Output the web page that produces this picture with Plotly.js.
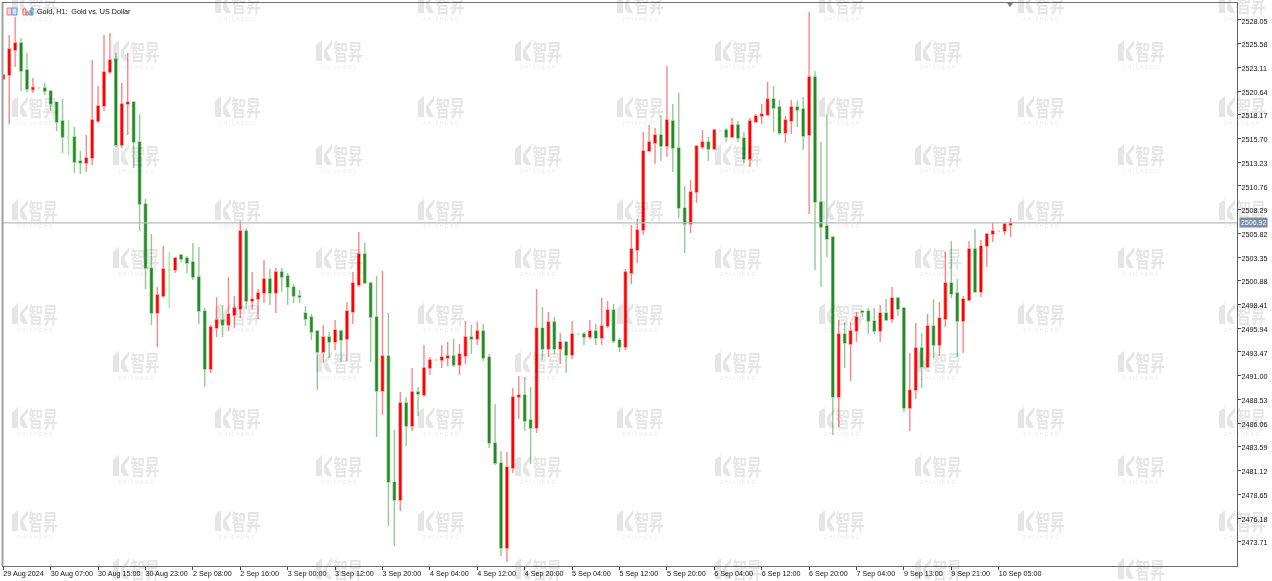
<!DOCTYPE html>
<html><head><meta charset="utf-8">
<script src="https://cdn.plot.ly/plotly-3.0.1.min.js"></script>
<style>html,body{margin:0;padding:0;background:#fff}#c{width:1272px;height:581px;filter:blur(0.3px)}</style>
</head><body><div id="c"></div>
<script>
const opens = [2521.90,2522.32,2524.92,2525.65,2522.84,2520.81,2520.96,2520.96,2520.65,2519.50,
2517.53,2515.86,2515.86,2513.36,2513.15,2513.67,2517.53,2519.09,2522.63,2523.98,
2515.03,2519.30,2519.50,2515.34,2508.88,2502.21,2497.52,2499.30,2502.00,2502.00,
2503.57,2503.26,2502.84,2501.28,2497.73,2491.69,2495.96,2496.80,2496.28,2497.32,
2497.94,2506.07,2498.78,2498.98,2499.61,2501.07,2499.61,2501.80,2501.38,2500.23,
2499.30,2497.52,2497.11,2495.65,2493.46,2495.03,2494.50,2495.65,2494.82,2497.63,
2500.44,2503.67,2500.65,2497.11,2489.40,2493.05,2479.92,2478.05,2488.15,2485.76,
2489.30,2488.98,2491.80,2492.63,2492.63,2492.84,2493.05,2492.11,2493.05,2495.03,
2494.82,2495.65,2492.94,2483.98,2481.90,2473.05,2481.38,2488.78,2488.98,2486.38,
2485.55,2495.96,2493.78,2496.59,2493.78,2494.50,2493.15,2495.34,2495.34,2495.03,
2495.65,2494.92,2496.17,2497.84,2494.71,2493.98,2501.69,2504.09,2506.17,2514.40,
2515.23,2516.07,2514.92,2517.53,2514.71,2508.46,2506.80,2510.13,2514.82,2515.34,
2514.61,2516.48,2516.59,2515.86,2517.11,2515.75,2513.57,2517.42,2518.05,2518.15,
2519.82,2518.98,2516.28,2517.53,2518.98,2518.78,2516.07,2522.11,2509.09,2506.59,
2505.44,2488.78,2495.34,2494.30,2495.65,2497.73,2497.73,2496.69,2495.65,2497.52,
2496.90,2499.09,2498.05,2487.63,2489.50,2493.88,2491.90,2496.17,2494.19,2496.90,
2500.65,2499.61,2496.69,2498.88,2504.19,2499.71,2504.50,2505.75,2506.07,2506.07,
2506.69];
const highs = [2522.32,2526.48,2528.36,2526.17,2524.61,2522.00,2520.96,2521.48,2520.65,2519.50,
2519.82,2517.63,2516.90,2514.40,2516.07,2523.88,2521.17,2526.48,2526.69,2524.61,
2521.48,2524.61,2519.61,2518.26,2509.40,2505.75,2500.23,2504.50,2503.88,2503.26,
2503.67,2503.46,2504.82,2504.40,2498.05,2496.28,2499.19,2498.36,2501.28,2499.30,
2507.11,2506.38,2501.80,2500.02,2503.05,2502.11,2502.21,2502.21,2501.69,2500.55,
2499.92,2498.25,2497.42,2495.65,2496.28,2495.55,2496.80,2495.75,2498.67,2501.80,
2505.96,2504.82,2500.65,2501.38,2501.90,2497.52,2485.34,2489.30,2488.78,2491.80,
2489.82,2494.19,2492.94,2492.63,2494.19,2494.50,2494.82,2494.30,2496.69,2496.28,
2496.59,2496.38,2493.25,2488.05,2483.15,2483.05,2489.71,2490.96,2490.86,2489.82,
2500.02,2498.15,2497.63,2497.11,2495.44,2494.61,2496.69,2495.34,2495.55,2496.80,
2496.38,2499.09,2498.78,2498.46,2494.92,2502.11,2506.69,2507.32,2516.38,2517.11,
2516.80,2518.15,2523.26,2519.30,2520.44,2510.75,2511.38,2514.92,2516.59,2515.86,
2516.69,2516.48,2516.80,2517.84,2517.53,2516.38,2517.84,2518.26,2519.30,2521.59,
2521.17,2519.71,2518.05,2519.71,2519.61,2520.03,2528.88,2522.73,2515.34,2518.26,
2505.44,2496.80,2496.59,2496.59,2497.63,2497.73,2498.05,2498.05,2498.36,2498.98,
2500.23,2499.09,2498.05,2493.36,2496.48,2495.44,2497.42,2498.98,2498.67,2503.88,
2505.03,2501.07,2499.30,2505.03,2506.28,2505.13,2505.86,2506.90,2506.07,2506.90,
2507.42];
const lows = [2521.90,2517.21,2523.15,2520.65,2520.55,2520.44,2520.96,2520.23,2518.57,2516.48,
2514.19,2513.98,2512.11,2512.00,2512.21,2512.94,2517.32,2518.57,2522.42,2514.82,
2514.71,2516.07,2512.63,2506.07,2500.02,2496.28,2493.98,2499.09,2498.05,2501.69,
2502.84,2501.69,2500.96,2496.38,2489.82,2491.27,2495.03,2495.03,2495.65,2495.96,
2497.00,2497.94,2497.94,2496.90,2498.57,2498.36,2497.52,2499.71,2498.36,2498.57,
2498.57,2496.17,2494.71,2489.50,2492.32,2492.84,2493.67,2492.42,2492.53,2496.38,
2500.23,2500.65,2492.42,2484.61,2486.90,2475.34,2473.25,2476.90,2483.67,2485.24,
2486.80,2488.78,2491.07,2492.63,2491.80,2492.00,2491.90,2491.07,2492.21,2493.25,
2494.19,2492.53,2483.46,2481.69,2472.21,2471.59,2480.86,2486.48,2485.24,2481.80,
2485.03,2492.63,2492.94,2493.25,2492.21,2491.27,2492.73,2495.34,2494.19,2494.82,
2494.19,2494.19,2495.96,2494.40,2493.46,2493.67,2500.55,2502.73,2505.65,2514.40,
2513.05,2513.36,2513.78,2512.21,2507.42,2503.78,2505.86,2508.98,2514.61,2513.36,
2514.61,2516.48,2515.34,2515.86,2515.34,2513.15,2512.73,2517.42,2517.21,2518.15,
2516.38,2516.07,2515.23,2516.17,2516.90,2514.50,2507.84,2502.00,2500.23,2503.36,
2484.82,2485.65,2491.80,2490.44,2494.50,2497.11,2495.34,2495.34,2494.50,2496.80,
2496.48,2497.21,2487.21,2485.24,2488.57,2489.71,2491.90,2492.84,2493.05,2496.07,
2499.09,2492.94,2493.36,2498.78,2499.71,2499.19,2502.32,2504.92,2506.07,2505.65,
2505.44];
const closes = [2522.32,2525.03,2525.65,2522.73,2520.86,2521.02,2520.96,2520.65,2519.30,2517.42,
2515.86,2515.86,2513.26,2513.15,2513.67,2517.63,2519.09,2522.63,2523.88,2515.03,
2519.30,2519.50,2515.34,2508.88,2502.21,2497.52,2499.40,2502.11,2502.00,2503.26,
2503.15,2502.73,2501.28,2497.73,2491.69,2496.07,2496.80,2496.28,2497.42,2498.05,
2506.07,2498.78,2498.98,2499.61,2501.07,2499.61,2501.80,2501.28,2500.23,2499.30,
2499.19,2496.90,2495.55,2493.46,2495.03,2494.50,2495.75,2494.71,2497.73,2500.65,
2503.67,2500.65,2497.11,2489.40,2493.05,2479.92,2478.05,2488.15,2485.76,2489.30,
2489.09,2491.80,2492.63,2492.63,2492.94,2493.05,2492.11,2493.25,2495.03,2494.82,
2495.65,2492.84,2483.98,2481.90,2473.05,2481.48,2488.78,2488.98,2486.28,2485.55,
2495.96,2493.78,2496.59,2493.78,2494.50,2493.15,2495.34,2495.34,2495.03,2495.65,
2494.92,2496.17,2497.84,2494.61,2493.98,2501.80,2504.19,2506.17,2514.40,2515.34,
2516.07,2514.92,2517.63,2514.71,2508.46,2506.80,2510.13,2514.92,2515.34,2514.61,
2516.59,2516.48,2515.86,2517.11,2515.75,2513.57,2517.53,2518.05,2518.26,2519.82,
2518.88,2516.28,2517.63,2518.98,2518.67,2515.96,2522.11,2509.09,2506.48,2505.24,
2488.78,2495.34,2494.40,2495.65,2497.11,2497.63,2496.69,2495.65,2497.52,2496.80,
2499.09,2497.94,2487.63,2489.50,2493.88,2491.90,2496.17,2494.19,2497.00,2500.65,
2499.51,2496.69,2498.98,2504.19,2499.71,2504.50,2505.75,2506.07,2506.07,2506.80,
2506.90];
const priceTicks = [2528.05,2525.58,2523.11,2520.64,2518.17,2515.70,2513.23,2510.76,2508.29,2505.82,2503.35,2500.88,2498.41,2495.94,2493.47,2491.00,2488.53,2486.06,2483.59,2481.12,2478.65,2476.18,2473.71];
const timeLabels = ["29 Aug 2024","30 Aug 07:00","30 Aug 15:00","30 Aug 23:00","2 Sep 08:00","2 Sep 16:00","3 Sep 00:00","3 Sep 12:00","3 Sep 20:00","4 Sep 04:00","4 Sep 12:00","4 Sep 20:00","5 Sep 04:00","5 Sep 12:00","5 Sep 20:00","6 Sep 04:00","6 Sep 12:00","6 Sep 20:00","7 Sep 04:00","9 Sep 13:00","9 Sep 21:00","10 Sep 05:00"];
const lastPrice = 2506.92;
const titleText = "Gold, H1:  Gold vs. US Dollar";
const watermarkA = {lefts:[12,215,418,617,819,1018,1219], tops:[-8,96,199,303,407,510]};
const watermarkB = {lefts:[113,316,515,715,915,1118], tops:[40,144,247,351,455,558]};

const L=3,R=1237,T=3,B=566;
const PX=x=>(x-L)/(R-L), PY=y=>(B-y)/(B-T);
const idx = opens.map((_,i)=>i);
const isDoji = i=>opens[i]===closes[i];
const pick=(a,f)=>idx.filter(f).map(i=>a[i]);
function candle(f,up,down){
  return {type:'candlestick',x:pick(idx,f),open:pick(opens,f),high:pick(highs,f),low:pick(lows,f),close:pick(closes,f),
    whiskerwidth:0,hoverinfo:'skip',showlegend:false,
    increasing:{line:{color:up[0],width:1.4},fillcolor:up[1]},
    decreasing:{line:{color:down[0],width:1.4},fillcolor:down[1]}};
}
const red=['rgba(255,0,0,0.48)','#ff0000'], grn=['rgba(34,139,34,0.48)','#228b22'], lime=['rgba(60,235,60,0.55)','#66ee66'];
const traces=[candle(i=>!isDoji(i),red,grn),candle(isDoji,lime,lime)];

const shapes=[],annotations=[];
const wmGrey='rgba(0,0,0,0.1)';
function watermark(l,t){
  const p=(a,b)=>PX(l+a)+','+PY(t+b);
  const path='M'+p(0,5)+' L'+p(6,0)+' L'+p(6,21)+' L'+p(0,21)+' Z M'+p(8,10)+' L'+p(16,0)+' L'+p(16,5)+' L'+p(11,11)+' L'+p(16,21)+' L'+p(11,21)+' L'+p(8,17)+' Z';
  shapes.push({type:'path',xref:'paper',yref:'paper',path,fillcolor:wmGrey,line:{width:0},layer:'below'});
  annotations.push({xref:'paper',yref:'paper',x:PX(l+31.5),y:PY(t+10.5),text:'智昇',showarrow:false,xanchor:'center',yanchor:'middle',
    font:{family:'Noto Sans CJK SC',size:17,color:wmGrey,weight:700}});
  annotations.push({xref:'paper',yref:'paper',x:PX(l+22.5),y:PY(t+27),text:'Z H I S H E N G',showarrow:false,xanchor:'center',yanchor:'middle',
    font:{family:'Liberation Sans',size:5,color:wmGrey}});
}
[watermarkA,watermarkB].forEach(g=>g.tops.forEach(t=>g.lefts.forEach(l=>watermark(l,t))));

// current price line, left frame, chart-shift triangle
shapes.push({type:'line',xref:'paper',yref:'y',x0:0,x1:1,y0:lastPrice,y1:lastPrice,line:{color:'#b4bcc8',width:1.2},layer:'above'});
shapes.push({type:'line',xref:'paper',yref:'paper',x0:PX(2.5),x1:PX(2.5),y0:0,y1:1,line:{color:'#a0a0a0',width:2},layer:'above'});
shapes.push({type:'path',xref:'paper',yref:'paper',path:'M'+PX(1007)+','+PY(3)+' L'+PX(1013)+','+PY(3)+' L'+PX(1010)+','+PY(7)+' Z',fillcolor:'#6f7f8f',line:{width:0},layer:'above'});
// toolbar icons
const rect=(x0,y0,x1,y1,c,f)=>shapes.push({type:'rect',xref:'paper',yref:'paper',x0:PX(x0),x1:PX(x1),y0:PY(y0),y1:PY(y1),line:{color:c,width:1},fillcolor:f,layer:'above'});
rect(7,8,12,15,'#f08080','#fbd0d0');
rect(12,8,17,15,'#5a9fd0','#cfe4f5');
rect(23,9,26,15,'#f06060','rgba(255,255,255,0)');
rect(26,12,28,15,'#f06060','rgba(255,255,255,0)');
rect(29,11,31,15,'#4a95d0','rgba(255,255,255,0)');
rect(31,8,33,15,'#4a95d0','rgba(255,255,255,0)');

annotations.push({xref:'paper',yref:'y',x:PX(1239),y:lastPrice,xanchor:'left',yanchor:'middle',text:String(lastPrice),showarrow:false,
  bgcolor:'#7d8ea6',font:{family:'Liberation Sans',size:7,color:'#fff'},borderpad:1});

const layout={
  width:1272,height:581,autosize:false,showlegend:false,
  paper_bgcolor:'#fff',plot_bgcolor:'rgba(0,0,0,0)',
  margin:{l:L,r:1272-R,t:T,b:581-B,pad:0},
  boxgap:0.44,
  title:{text:titleText,x:37/1272,y:1-11.5/581,xref:'container',yref:'container',xanchor:'left',yanchor:'middle',font:{family:'Liberation Sans',size:7.2,color:'#111'}},
  xaxis:{type:'linear',range:[-0.05,208.22],rangeslider:{visible:false},tickmode:'array',
    tickvals:timeLabels.map((_,k)=>k*8),ticktext:timeLabels,showgrid:false,zeroline:false,
    showline:true,mirror:true,linecolor:'#707070',linewidth:1,ticks:'outside',ticklen:3,tickcolor:'#444',tickwidth:1,
    tickangle:0,ticklabeloverflow:'allow',ticklabelstandoff:-3,tickfont:{family:'Liberation Sans',size:7.2,color:'#111'}},
  yaxis:{side:'right',range:[2471.18,2529.82],tickmode:'array',tickvals:priceTicks,ticktext:priceTicks.map(v=>v.toFixed(2)),
    showgrid:false,zeroline:false,showline:true,mirror:true,linecolor:'#606060',linewidth:1,ticks:'outside',ticklen:3,tickcolor:'#444',tickwidth:1,
    ticklabeloverflow:'allow',ticklabelshift:1,ticklabelstandoff:-1,tickfont:{family:'Liberation Sans',size:7.2,color:'#111'}},
  shapes,annotations
};
Plotly.newPlot('c',traces,layout,{staticPlot:true,displayModeBar:false}).then(()=>{
  document.querySelectorAll('.xtick text').forEach(t=>t.setAttribute('text-anchor','start'));
  document.querySelectorAll('.annotation-text').forEach(t=>{
    if(t.textContent==='智昇'){t.style.transformBox='fill-box';t.style.transformOrigin='center';t.style.transform='scale(0.86,1.25)';}
  });
});
</script></body></html>
